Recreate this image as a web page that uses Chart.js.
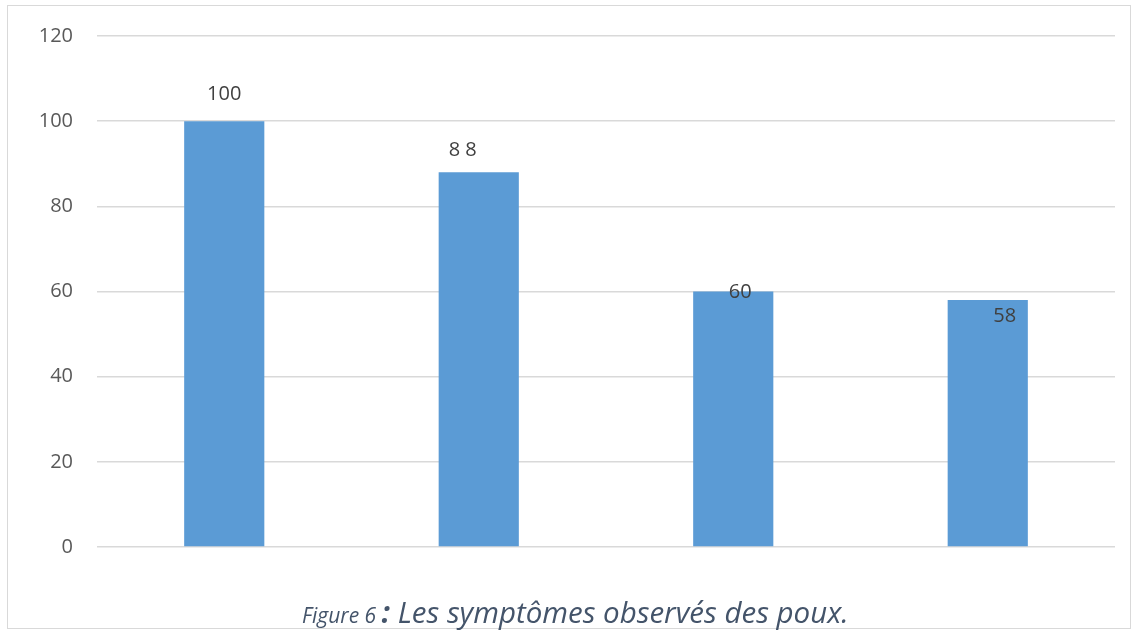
<!DOCTYPE html>
<html>
<head>
<meta charset="utf-8">
<script src="https://cdn.jsdelivr.net/npm/chart.js@4"></script>
<style>
  body { margin: 0; background: #fff; }
  #box { position: absolute; left: 7px; top: 5px; width: 1122px; height: 622px; border: 1px solid #d9d9d9; }
  #myChart { position: absolute; left: 0; top: 0; }
  #caption { position: absolute; left: 302px; top: 597px; line-height: 30px; font-family: "Open Sans", sans-serif; font-style: italic; color: #44546a; white-space: nowrap; }
  #caption .small { font-size: 21px; }
  #caption .big { font-size: 29.5px; }
</style>
</head>
<body>
<div id="box"></div>
<canvas id="myChart" width="1138" height="630"></canvas>
<div id="caption"><span class="small">Figure 6 </span><span class="big"><b>:</b> Les symptômes observés des poux.</span></div>
<script>
const ctx = document.getElementById('myChart');

const categories = ['1', '2', '3', '4'];
const values = [100, 88, 60, 58];
const labelTexts = ['100', '8 8', '60', '58'];
const yTicks = [0, 20, 40, 60, 80, 100, 120];

// data labels drawn where the original had them (offsets from bar top)
const labelOffsets = [[0, -27], [-16, -22], [7, 1], [17, 16]];

const barLabels = {
    id: 'barLabels',
    afterDatasetsDraw(chart) {
        const c = chart.ctx;
        const meta = chart.getDatasetMeta(0);
        c.save();
        c.font = '20px "Open Sans", sans-serif';
        c.fillStyle = '#404040';
        c.textAlign = 'center';
        c.textBaseline = 'middle';
        meta.data.forEach((bar, i) => {
            c.fillText(labelTexts[i], bar.x + labelOffsets[i][0], bar.y + labelOffsets[i][1]);
        });
        c.restore();
    }
};

new Chart(ctx, {
    type: 'bar',
    data: {
        labels: categories,
        datasets: [{
            data: values,
            backgroundColor: '#5b9bd5',
            categoryPercentage: 1,
            barPercentage: 0.315
        }]
    },
    options: {
        responsive: false,
        animation: false,
        layout: { padding: { left: 0, right: 23, top: 36, bottom: 83 } },
        plugins: { legend: { display: false }, tooltip: { enabled: false } },
        scales: {
            x: { display: false },
            y: {
                min: 0,
                max: 120,
                afterBuildTicks: s => { s.ticks = yTicks.map(v => ({ value: v })); },
                afterFit: s => { s.width = 97; },
                border: { display: false },
                grid: { color: '#d9d9d9', lineWidth: 1.5, drawTicks: false },
                ticks: {
                    padding: 24,
                    color: '#595959',
                    font: { family: '"Open Sans", sans-serif', size: 20 }
                }
            }
        }
    },
    plugins: [barLabels]
});
</script>
</body>
</html>
